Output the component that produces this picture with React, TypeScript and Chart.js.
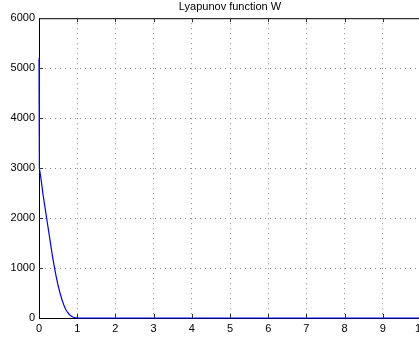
import React, { useEffect, useRef } from "react";
import { Chart, registerables } from "chart.js";

Chart.register(...registerables);

const TITLE = "Lyapunov function W";
const timeValues = [0, 0.01, 0.05, 0.1, 0.15, 0.2, 0.25, 0.3, 0.35, 0.4, 0.45, 0.5, 0.55, 0.6, 0.65, 0.7, 0.75, 0.8, 0.85, 0.9, 0.95, 1.0, 2, 3, 4, 5, 6, 7, 8, 9, 10];
const wValues = [5200, 2990, 2800, 2500, 2250, 2000, 1750, 1500, 1250, 1030, 830, 650, 500, 370, 260, 170, 110, 65, 35, 15, 5, 1, 0, 0, 0, 0, 0, 0, 0, 0, 0];
const xTicks = [0, 1, 2, 3, 4, 5, 6, 7, 8, 9, 10];
const yTicks = [0, 1000, 2000, 3000, 4000, 5000, 6000];

const FONT = "Liberation Sans, Arial, Helvetica, sans-serif";

const frame = {
  id: "frame",
  afterDraw(chart: any) {
    const { ctx, chartArea } = chart;
    const { left, right, top, bottom } = chartArea;
    ctx.save();
    ctx.strokeStyle = "#000";
    ctx.lineWidth = 1;
    ctx.beginPath();
    ctx.moveTo(left, top + 0.5);
    ctx.lineTo(right, top + 0.5);
    ctx.stroke();
    ctx.strokeStyle = "#333";
    const xs = chart.scales.x;
    const ys = chart.scales.y;
    ctx.beginPath();
    for (const v of xTicks) {
      if (v === 0) continue;
      const px = Math.round(xs.getPixelForValue(v)) + 0.5;
      ctx.moveTo(px, top);
      ctx.lineTo(px, top + 4);
      ctx.moveTo(px, bottom);
      ctx.lineTo(px, bottom - 4);
    }
    for (const v of yTicks) {
      if (v === 0 || v === 6000) continue;
      const py = Math.round(ys.getPixelForValue(v)) + 0.5;
      ctx.moveTo(left, py);
      ctx.lineTo(left + 4, py);
    }
    ctx.stroke();
    ctx.restore();
  },
};

export default function App() {
  const ref = useRef<HTMLCanvasElement>(null);
  useEffect(() => {
    if (!ref.current) return;
    const chart = new Chart(ref.current, {
      type: "line",
      data: {
        datasets: [
          {
            data: timeValues.map((t, i) => ({ x: t, y: wValues[i] })),
            borderColor: "#0000ff",
            borderWidth: 1.2,
            pointRadius: 0,
            tension: 0,
            fill: false,
            clip: 3,
          },
        ],
      },
      options: {
        animation: false,
        responsive: false,
        layout: { padding: { left: 0, right: 11, top: 0, bottom: 0 } },
        plugins: {
          legend: { display: false },
          tooltip: { enabled: false },
          title: {
            display: true,
            fullSize: false,
            text: TITLE,
            color: "#000",
            font: { family: FONT, size: 11, weight: "normal" },
            padding: { top: 0, bottom: 5 },
          },
        },
        scales: {
          x: {
            type: "linear",
            min: 0,
            max: 10,
            afterBuildTicks: (s: any) => {
              s.ticks = xTicks.map((v) => ({ value: v }));
            },
            afterFit: (s: any) => {
              s.height = 22;
              s.paddingLeft = 0;
              s.paddingRight = 0;
            },
            ticks: {
              color: "#000",
              font: { family: FONT, size: 11 },
              padding: 4,
              maxRotation: 0,
              autoSkip: false,
              callback: (v: any) => String(v),
            },
            grid: {
              color: (c: any) => (c.tick && c.tick.value === 0 ? "rgba(0,0,0,0)" : "#8a8a8a"),
              drawTicks: false,
              lineWidth: 1,
            },
            border: { display: true, color: "#000", width: 1, dash: [1, 4], z: -1 },
          },
          y: {
            type: "linear",
            min: 0,
            max: 6000,
            afterBuildTicks: (s: any) => {
              s.ticks = yTicks.map((v) => ({ value: v }));
            },
            afterFit: (s: any) => {
              s.width = 39;
              s.paddingTop = 0;
              s.paddingBottom = 0;
            },
            ticks: {
              color: "#000",
              font: { family: FONT, size: 11 },
              padding: 4,
              autoSkip: false,
              callback: (v: any) => String(v),
            },
            grid: {
              color: (c: any) => (c.tick && (c.tick.value === 0 || c.tick.value === 6000) ? "rgba(0,0,0,0)" : "#8a8a8a"),
              drawTicks: false,
              lineWidth: 1,
            },
            border: { display: true, color: "#000", width: 1, dash: [1, 4], z: -1 },
          },
        },
      },
      plugins: [frame],
    });
    return () => chart.destroy();
  }, []);
  return (
    <div style={{ position: "fixed", left: 0, top: 0, width: 419, height: 340, overflow: "hidden", background: "#fff" }}>
      <canvas ref={ref} width={432} height={340} style={{ display: "block" }} />
    </div>
  );
}
